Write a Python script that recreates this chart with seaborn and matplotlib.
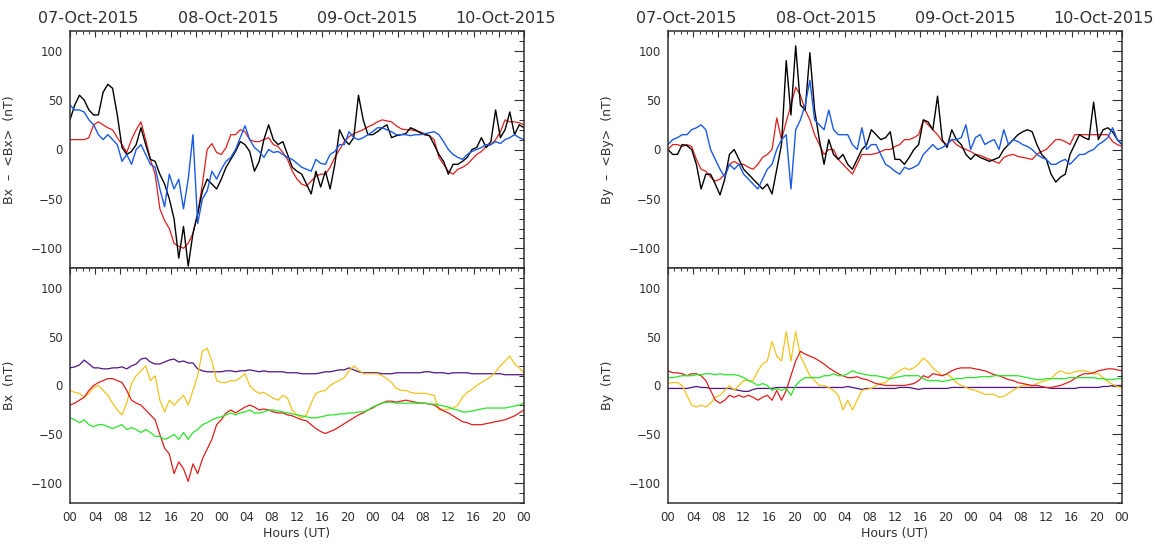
import numpy as np
import matplotlib
matplotlib.use("Agg")
import matplotlib.pyplot as plt
import seaborn as sns
from matplotlib.ticker import MultipleLocator, FuncFormatter

# time axis: 07-Oct-2015 00 UT to 10-Oct-2015 00 UT, samples every 45 min
hours = np.linspace(0, 72, 97)
date_labels = ["07-Oct-2015", "08-Oct-2015", "09-Oct-2015", "10-Oct-2015"]

# ---- Bx - <Bx> (top left) ----
bx_dev_black = [30, 45, 55, 50, 40, 35, 35, 58, 66, 62, 35, 2, -5, -2, 5, 22, 5, -10, -12, -25,
                -35, -50, -70, -110, -78, -118, -85, -65, -42, -30, -35, -40, -30, -18, -10, -2, 8, 5, -2, -22,
                -12, 10, 25, 10, 5, 8, -5, -18, -22, -25, -35, -45, -22, -38, -22, -40, -15, 20, 10, 5,
                12, 55, 30, 15, 15, 18, 22, 25, 12, 14, 15, 16, 22, 20, 17, 15, 14, 5, -5, -12,
                -25, -15, -15, -12, -8, 0, 2, 12, 2, 8, 40, 12, 20, 38, 15, 25, 22]
bx_dev_red = [10, 10, 10, 10, 12, 25, 28, 25, 22, 20, 12, 5, -3, 10, 20, 28, 10, -10, -25, -60,
              -72, -80, -95, -98, -100, -95, -85, -65, -35, 0, 6, -3, -5, 2, 15, 15, 20, 18, 10, 8,
              8, 10, 12, 5, 3, -3, -10, -22, -30, -35, -37, -32, -27, -25, -25, -18, -8, 0, 8, 13,
              16, 18, 20, 23, 25, 28, 30, 29, 28, 24, 21, 20, 20, 19, 18, 16, 14, 10, -8, -15,
              -22, -25, -20, -18, -15, -10, -5, -2, 3, 5, 10, 18, 30, 28, 28, 27, 25]
bx_dev_blue = [45, 40, 40, 38, 30, 25, 15, 10, 15, 10, 5, -12, -5, -15, 0, 5, -5, -15, -18, -40,
               -58, -25, -40, -30, -60, -30, 15, -75, -50, -42, -22, -30, -20, -12, -8, 0, 12, 24, 10, 2,
               -2, -8, 0, -3, -2, -5, -8, -10, -14, -18, -20, -22, -10, -14, -15, -5, -2, 5, 5, 18,
               12, 10, 12, 15, 18, 22, 22, 20, 18, 15, 15, 15, 14, 15, 15, 16, 17, 18, 15, 8,
               0, -5, -8, -10, -5, -2, 0, 2, 5, 5, 8, 6, 10, 12, 15, 12, 10]

# ---- Bx (bottom left) ----
bx_purple = [18, 19, 21, 26, 22, 18, 18, 17, 17, 18, 18, 19, 17, 20, 22, 27, 28, 24, 22, 22,
             24, 26, 27, 24, 25, 23, 23, 17, 15, 14, 14, 14, 14, 15, 15, 14, 15, 15, 16, 15,
             14, 15, 14, 14, 14, 14, 13, 13, 13, 12, 12, 12, 12, 13, 14, 14, 15, 16, 16, 18,
             16, 14, 13, 13, 13, 13, 12, 12, 12, 13, 13, 13, 13, 13, 13, 14, 14, 13, 13, 13,
             12, 13, 13, 13, 13, 12, 12, 12, 12, 12, 12, 12, 11, 11, 11, 11, 11]
bx_yellow = [-5, -7, -8, -12, -8, -2, 0, -5, -10, -18, -25, -30, -18, 2, 10, 15, 20, 5, 10, -15,
             -27, -15, -20, -15, -10, -20, -5, 10, 35, 38, 25, 5, 3, 3, 5, 5, 8, 12, 0, -5,
             -8, -7, -10, -13, -15, -10, -13, -25, -30, -33, -30, -18, -8, -6, -5, 0, 3, 5, 8, 15,
             20, 16, 12, 12, 12, 12, 10, 7, 3, -3, -5, -5, -7, -8, -8, -8, -9, -10, -25, -25,
             -24, -23, -20, -12, -7, -4, 0, 3, 6, 9, 14, 20, 25, 30, 22, 18, 13]
bx_red = [-20, -18, -15, -12, -5, 0, 3, 5, 7, 7, 5, 3, -5, -15, -18, -20, -25, -30, -35, -50,
          -64, -70, -90, -78, -85, -98, -80, -90, -75, -65, -55, -40, -35, -28, -25, -28, -25, -22, -20, -22,
          -25, -24, -25, -27, -28, -28, -30, -31, -33, -35, -36, -40, -44, -47, -49, -47, -45, -42, -39, -36,
          -33, -30, -28, -25, -23, -20, -18, -16, -16, -17, -16, -15, -16, -17, -18, -18, -19, -20, -23, -26,
          -28, -31, -34, -37, -38, -40, -40, -40, -39, -38, -37, -36, -35, -33, -31, -28, -25]
bx_green = [-33, -35, -38, -35, -40, -42, -40, -40, -42, -44, -42, -40, -45, -43, -45, -48, -45, -48, -52, -52,
            -55, -53, -50, -55, -48, -55, -48, -45, -40, -38, -35, -33, -32, -30, -28, -30, -28, -27, -25, -28,
            -28, -27, -25, -25, -26, -27, -28, -29, -30, -31, -32, -33, -33, -32, -31, -30, -30, -29, -29, -28,
            -28, -27, -27, -25, -22, -20, -18, -17, -17, -18, -18, -18, -18, -18, -18, -18, -19, -19, -20, -21,
            -22, -24, -25, -27, -27, -26, -25, -24, -23, -23, -23, -23, -23, -22, -21, -20, -18]

# ---- By - <By> (top right) ----
by_dev_black = [0, -5, -5, 5, 4, 0, -15, -40, -25, -25, -35, -46, -30, -5, 0, -10, -20, -25, -30, -35,
                -40, -35, -45, -20, 5, 90, 35, 105, 45, 40, 98, 40, 10, -15, 10, -5, -10, -5, -15, -20,
                -10, 0, 5, 20, 15, 10, 12, 18, -10, -10, -15, -8, 0, 5, 30, 28, 20, 54, 10, 2,
                20, 10, 5, -5, -10, -5, -8, -10, -12, -10, -8, 0, 5, 10, 15, 18, 20, 18, 5, -5,
                -10, -25, -33, -28, -25, -5, 5, 15, 12, 10, 48, 10, 20, 22, 18, 10, 5]
by_dev_red = [0, 5, 5, 3, 5, 3, -10, -20, -22, -28, -32, -30, -25, -15, -12, -15, -15, -18, -20, -15,
              -8, -5, 0, 32, 10, 28, 45, 63, 55, 40, 30, 15, 5, -5, 0, 0, -10, -15, -20, -25,
              -15, -5, -5, -5, -4, -2, 0, 0, 3, 5, 10, 10, 12, 15, 30, 25, 20, 15, 8, 5,
              10, 5, 2, 0, -2, -5, -6, -8, -10, -12, -14, -8, -6, -5, -7, -8, -9, -10, -5, -2,
              0, 5, 10, 10, 8, 5, 15, 15, 15, 15, 15, 15, 15, 15, 8, 5, 3]
by_dev_blue = [5, 10, 12, 15, 15, 20, 22, 25, 20, 0, -10, -20, -28, -15, -20, -15, -25, -30, -35, -40,
               -30, -20, -15, 0, 10, 15, -40, 20, 30, 45, 70, 30, 25, 20, 40, 20, 15, 15, 15, 5,
               0, 22, 0, 5, 5, -5, -15, -18, -22, -25, -18, -20, -18, -15, -5, 0, 5, 0, 2, 5,
               10, 10, 12, 25, 0, 12, 15, 5, 8, 10, 0, 20, 5, 10, 8, 5, 3, 0, -5, -8,
               -10, -15, -15, -12, -10, -15, -10, -5, -5, -2, 0, 5, 8, 12, 22, 10, 5]

# ---- By (bottom right) ----
by_purple = [-3, -3, -3, -3, -3, -2, -1, -2, -2, -3, -3, -3, -3, -3, -4, -5, -6, -6, -4, -3,
             -3, -3, -3, -2, -2, -2, -2, -2, -2, -2, -2, -2, -2, -2, -2, -2, -2, -2, -1, -2,
             -3, -4, -3, -3, -3, -3, -3, -3, -3, -2, -2, -2, -3, -4, -3, -3, -3, -3, -3, -3,
             -2, -2, -2, -2, -2, -2, -2, -2, -2, -2, -2, -2, -2, -2, -2, -2, -2, -2, -2, -2,
             -2, -3, -3, -3, -3, -3, -3, -2, -2, -2, -2, -2, -1, -1, 0, 0, 0]
by_yellow = [2, 3, 3, 0, -10, -20, -22, -20, -22, -18, -12, -10, -5, 0, -5, 0, 5, 5, 5, 15,
             22, 25, 45, 30, 25, 55, 25, 55, 30, 20, 10, 5, 0, 0, -2, -5, -10, -25, -15, -25,
             -15, -5, -4, -3, 0, 2, 3, 8, 12, 15, 18, 16, 18, 22, 28, 24, 18, 14, 10, 12,
             8, 3, 0, -2, -4, -5, -7, -9, -9, -9, -12, -11, -8, -5, -2, 0, 0, -1, 2, 4,
             5, 7, 12, 15, 13, 12, 14, 15, 15, 14, 12, 12, 8, 4, 1, -1, -2]
by_red = [15, 13, 13, 12, 10, 12, 12, 10, 5, -5, -15, -18, -15, -10, -12, -10, -12, -10, -12, -15,
          -12, -10, -15, -5, -15, -5, 10, 25, 35, 32, 30, 28, 25, 22, 18, 15, 12, 10, 8, 8,
          9, 7, 6, 4, 2, 1, 0, 0, 0, 0, 0, 1, 2, 5, 10, 8, 12, 11, 10, 12,
          15, 17, 18, 18, 18, 17, 16, 15, 13, 11, 10, 8, 6, 5, 3, 2, 1, 0, 0, -1,
          -2, -2, -1, 0, 2, 4, 7, 10, 12, 12, 13, 15, 16, 17, 17, 16, 15]
by_green = [8, 8, 9, 10, 10, 10, 11, 11, 12, 12, 11, 12, 11, 11, 11, 10, 8, 5, 3, 0,
            2, 0, -5, -3, -5, -3, -10, 0, 5, 8, 8, 8, 8, 10, 10, 12, 10, 10, 12, 15,
            13, 12, 11, 10, 10, 9, 8, 7, 8, 9, 10, 10, 10, 10, 7, 5, 5, 5, 4, 5,
            6, 7, 7, 8, 8, 8, 9, 9, 9, 10, 10, 10, 10, 10, 10, 9, 8, 7, 6, 6,
            7, 7, 7, 7, 7, 8, 8, 8, 8, 8, 8, 7, 7, 6, 6, 7, 7]

C_BLACK = "#000000"
C_RED = "#e01e1e"
C_BLUE = "#1a5ae6"
C_PURPLE = "#501482"
C_YELLOW = "#f2c31e"
C_GREEN = "#28e628"
TXT = "#303030"

sns.set_style("white")
plt.rcParams["font.family"] = ["DejaVu Sans"]
plt.rcParams["axes.unicode_minus"] = True

fig = plt.figure(figsize=(11.64, 5.44), dpi=100)
W, H = 1164.0, 544.0

def add_axes(x0, y_top, y_bot, width=454):
    return fig.add_axes([x0 / W, 1 - y_bot / H, width / W, (y_bot - y_top) / H])

hour_fmt = FuncFormatter(lambda v, p: f"{int(round(v)) % 24:02d}")

def style(ax, ylabel, bottom_labels):
    ax.set_xlim(0, 72)
    ax.set_ylim(-120, 120)
    ax.xaxis.set_major_locator(MultipleLocator(4))
    ax.xaxis.set_minor_locator(MultipleLocator(1))
    ax.yaxis.set_major_locator(MultipleLocator(50))
    ax.yaxis.set_minor_locator(MultipleLocator(10))
    ax.xaxis.set_major_formatter(hour_fmt)
    ax.tick_params(axis="both", which="both", direction="in", top=True, right=True,
                   color=TXT, labelcolor=TXT, labelsize=8.5)
    ax.tick_params(axis="x", which="major", length=4, width=0.8, pad=6)
    ax.tick_params(axis="x", which="minor", length=2, width=0.7)
    ax.tick_params(axis="y", which="major", length=7, width=0.8, pad=5)
    ax.tick_params(axis="y", which="minor", length=3.5, width=0.7)
    ax.tick_params(axis="x", labelbottom=bottom_labels)
    for s in ax.spines.values():
        s.set_color(TXT)
        s.set_linewidth(1.1)
    ax.set_ylabel(ylabel, fontsize=9, color=TXT)
    ax.yaxis.set_label_coords(-0.118, 0.5)
    ax.set_xlabel("Hours (UT)" if bottom_labels else "", fontsize=9, color=TXT, labelpad=2)

def draw(ax, series):
    for vals, col, lw in series:
        sns.lineplot(x=hours, y=vals, ax=ax, color=col, linewidth=lw, legend=False)

for x0, dev_name, name, top_series, bot_series in [
    (70, "Bx  \u2013  <Bx>  (nT)", "Bx  (nT)",
     [(bx_dev_red, C_RED, 0.9), (bx_dev_black, C_BLACK, 1.0), (bx_dev_blue, C_BLUE, 1.0)],
     [(bx_purple, C_PURPLE, 0.9), (bx_yellow, C_YELLOW, 0.9), (bx_red, C_RED, 0.9), (bx_green, C_GREEN, 0.9)]),
    (668, "By  \u2013  <By>  (nT)", "By  (nT)",
     [(by_dev_red, C_RED, 0.9), (by_dev_black, C_BLACK, 1.0), (by_dev_blue, C_BLUE, 1.0)],
     [(by_purple, C_PURPLE, 0.9), (by_yellow, C_YELLOW, 0.9), (by_red, C_RED, 0.9), (by_green, C_GREEN, 0.9)]),
]:
    ax_top = add_axes(x0, 31, 268)
    ax_bot = add_axes(x0, 268, 503)
    draw(ax_top, top_series)
    draw(ax_bot, bot_series)
    style(ax_top, dev_name, False)
    style(ax_bot, name, True)
    for frac, lab in zip([0.040, 0.348, 0.654, 0.960], date_labels):
        ax_top.text(frac, 1.0 + 12.5 / 237, lab, transform=ax_top.transAxes,
                    ha="center", va="center", fontsize=11.5, color=TXT)

fig.savefig("out.png", dpi=100)
